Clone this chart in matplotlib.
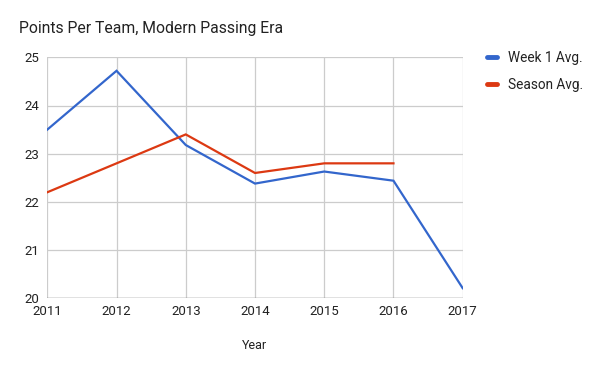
import matplotlib.pyplot as plt
from matplotlib.lines import Line2D

# data
years = [2011, 2012, 2013, 2014, 2015, 2016, 2017]
week1_avg = [23.5, 24.72, 23.18, 22.38, 22.63, 22.44, 20.21]
season_years = [2011, 2012, 2013, 2014, 2015, 2016]
season_avg = [22.2, 22.8, 23.4, 22.6, 22.8, 22.8]
y_ticks = [20, 21, 22, 23, 24, 25]

blue = '#3366cc'
red = '#dc3912'

plt.rcParams['font.family'] = ['Roboto', 'DejaVu Sans']

fig = plt.figure(figsize=(6, 3.71), dpi=100)
W, H = 600, 371
ax = fig.add_axes([47.3 / W, 1 - 298.3 / H, (462.7 - 47.3) / W, (298.3 - 57.3) / H])

ax.plot(years, week1_avg, color=blue, lw=1.6, solid_joinstyle='miter')
ax.plot(season_years, season_avg, color=red, lw=1.6, solid_joinstyle='miter')

ax.set_xlim(years[0], years[-1])
ax.set_ylim(20, 25)
ax.set_xticks(years)
ax.set_yticks(y_ticks)
ax.grid(True, color='#cccccc', lw=0.9)
ax.set_axisbelow(True)
for s in ax.spines.values():
    s.set_visible(False)
ax.axhline(20, color='#444444', lw=0.9, zorder=1)
ax.tick_params(length=0, labelsize=9.5, colors='#222222', pad=6)
ax.tick_params(axis='x', pad=5)

ax.set_xlabel('Year', fontsize=9, color='#222222', labelpad=15)
fig.text(19 / W, 1 - 29 / H, 'Points Per Team, Modern Passing Era',
         fontsize=11.3, color='#222222', va='center', ha='left')

handles = [Line2D([0], [0], color=blue, lw=3.5, solid_capstyle='round'),
           Line2D([0], [0], color=red, lw=3.5, solid_capstyle='round')]
fig.legend(handles, ['Week 1 Avg.', 'Season Avg.'], loc='upper left',
           bbox_to_anchor=(475 / W, 1 - 39 / H), frameon=False, fontsize=9.8,
           handlelength=0.75, handletextpad=0.75, labelspacing=0.95,
           labelcolor='#222222')

fig.savefig('out.png', dpi=100)
